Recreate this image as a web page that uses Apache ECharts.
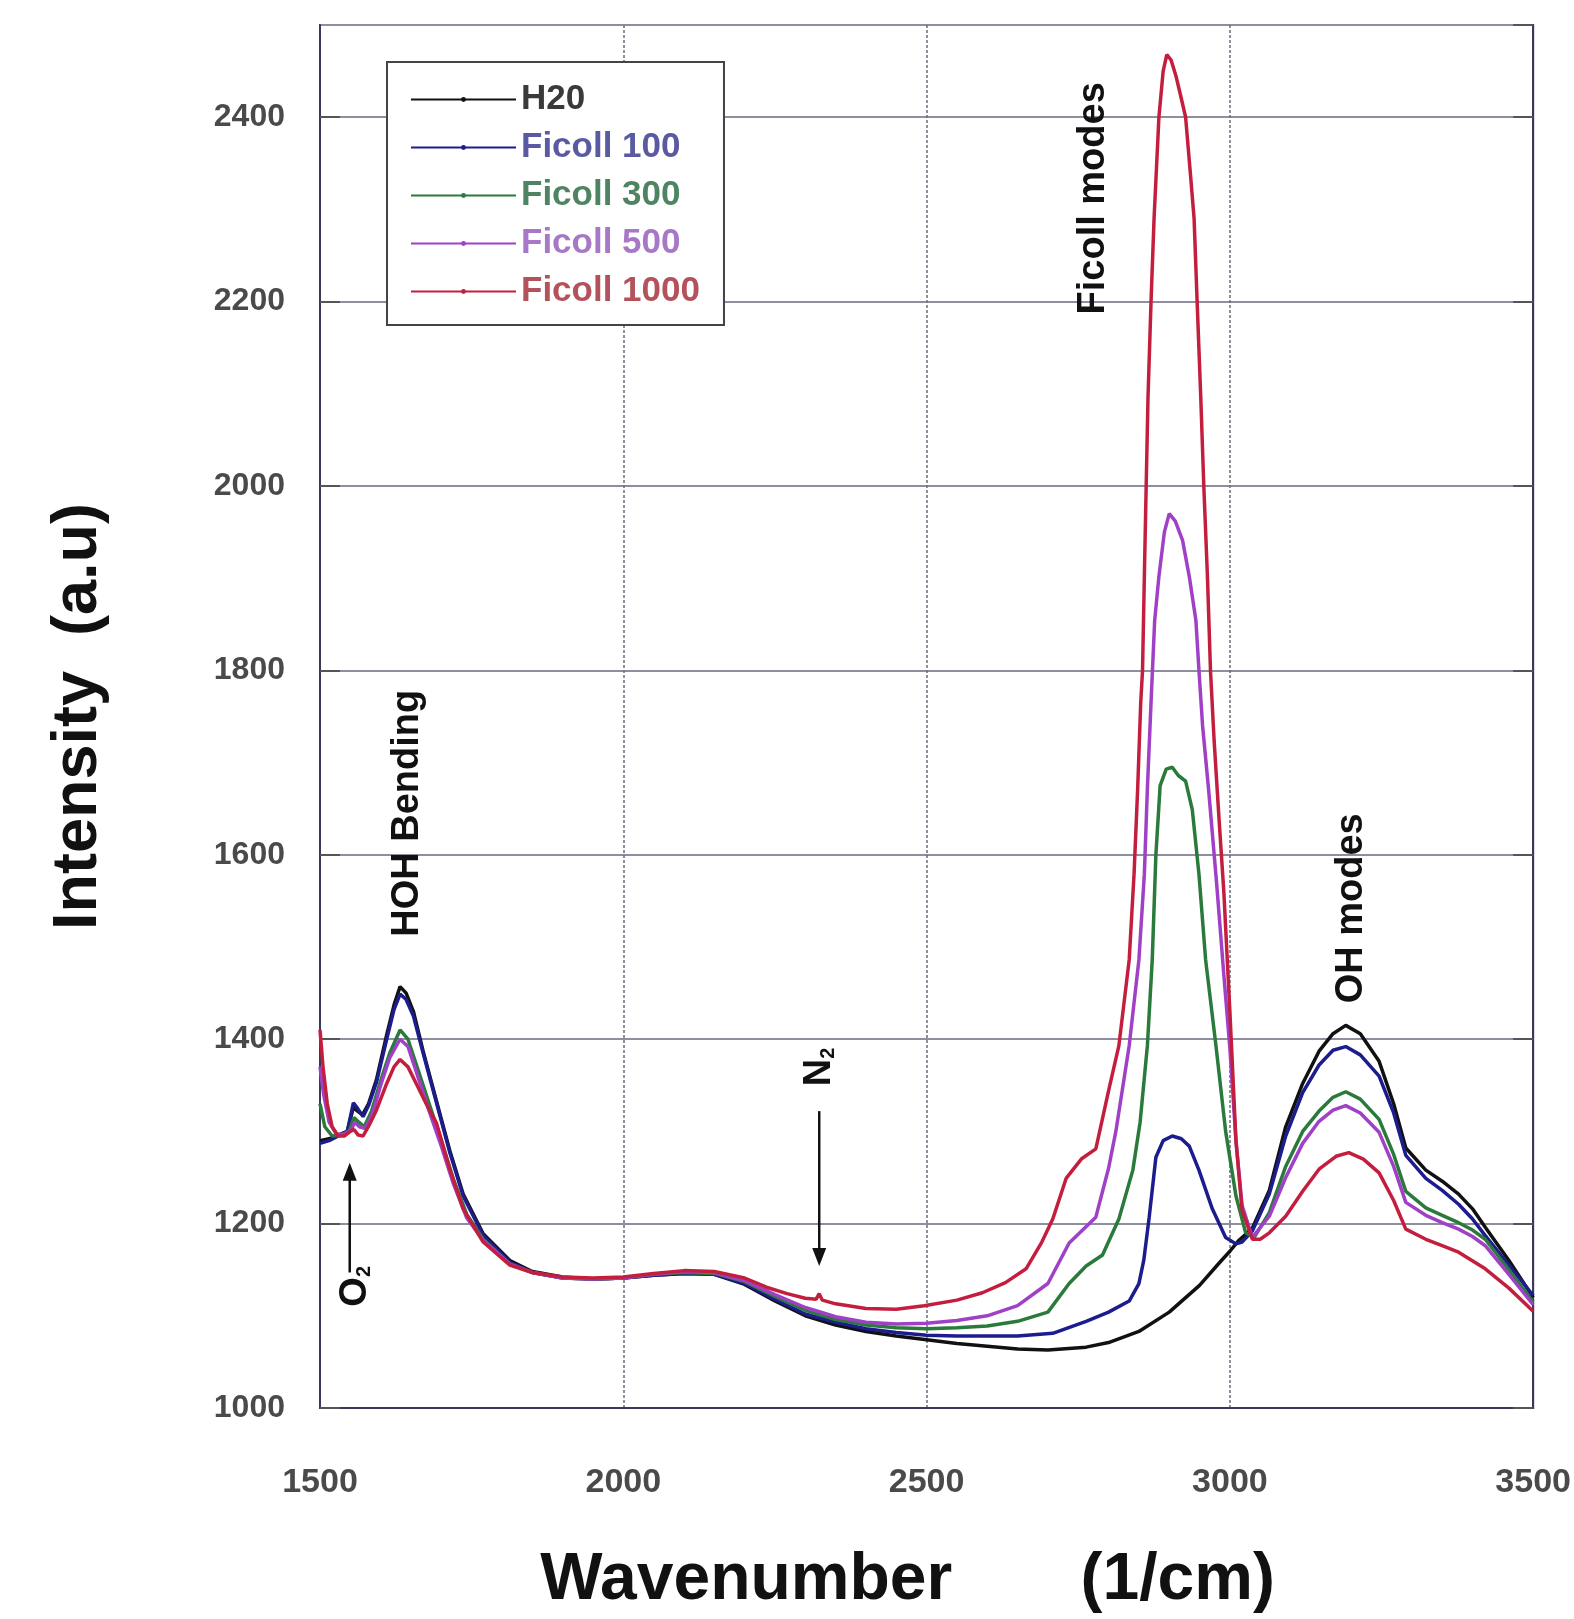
<!DOCTYPE html>
<html>
<head>
<meta charset="utf-8">
<script src="https://cdn.jsdelivr.net/npm/echarts@6/dist/echarts.min.js"></script>
<style>
  html, body { margin: 0; padding: 0; background: #fff; }
  #chart { width: 1574px; height: 1619px; }
</style>
</head>
<body>
<div id="chart"></div>
<script>
// series names and their colours
var seriesNames = ['H20', 'Ficoll 100', 'Ficoll 300', 'Ficoll 500', 'Ficoll 1000'];
var lineColors = ['#111111', '#1c1c8e', '#2a7a3c', '#a040c6', '#c41e3e'];
var legendTextColors = ['#3a3a3a', '#5a5aa2', '#4e8462', '#a878c8', '#b4525c'];

// axis ticks
var xTicks = [1500, 2000, 2500, 3000, 3500];
var yTicks = [1000, 1200, 1400, 1600, 1800, 2000, 2200, 2400];

// [wavenumber, intensity]
var h2o = [[1500,1290],[1515,1292],[1530,1296],[1545,1300],[1555,1326],[1562,1322],[1570,1318],[1580,1330],[1593,1356],[1610,1405],[1622,1437],[1632,1457],[1642,1450],[1654,1430],[1670,1387],[1692,1333],[1714,1279],[1736,1232],[1769,1189],[1813,1160],[1850,1148],[1900,1142],[1950,1140],[2000,1141],[2050,1144],[2100,1146],[2150,1145],[2200,1134],[2250,1116],[2300,1100],[2350,1090],[2400,1083],[2450,1078],[2500,1074],[2550,1070],[2600,1067],[2650,1064],[2700,1063],[2763,1066],[2800,1071],[2850,1083],[2900,1104],[2950,1133],[2982,1157],[3000,1170],[3015,1182],[3037,1195],[3065,1236],[3092,1305],[3120,1352],[3147,1387],[3170,1406],[3191,1415],[3215,1406],[3246,1376],[3270,1330],[3290,1282],[3323,1258],[3350,1246],[3377,1232],[3400,1216],[3421,1196],[3460,1160],[3500,1120]];

var ficoll100 = [[1500,1287],[1515,1290],[1530,1295],[1545,1300],[1555,1331],[1562,1325],[1571,1316],[1580,1328],[1593,1353],[1610,1400],[1622,1432],[1632,1449],[1642,1443],[1654,1425],[1670,1385],[1692,1331],[1714,1277],[1736,1230],[1769,1187],[1813,1158],[1850,1147],[1900,1141],[1950,1140],[2000,1141],[2050,1144],[2100,1146],[2150,1145],[2200,1135],[2250,1118],[2300,1102],[2350,1093],[2400,1086],[2450,1082],[2500,1079],[2550,1078],[2600,1078],[2650,1078],[2708,1081],[2763,1094],[2800,1104],[2834,1116],[2850,1135],[2858,1160],[2867,1207],[2878,1272],[2890,1290],[2905,1295],[2920,1292],[2933,1284],[2949,1258],[2971,1216],[2993,1185],[3010,1178],[3020,1180],[3037,1192],[3065,1232],[3092,1295],[3120,1342],[3147,1372],[3170,1388],[3191,1392],[3215,1383],[3246,1360],[3270,1320],[3290,1274],[3323,1249],[3350,1236],[3377,1221],[3400,1205],[3421,1187],[3460,1155],[3500,1122]];

var ficoll300 = [[1500,1330],[1508,1305],[1520,1295],[1535,1296],[1548,1300],[1556,1315],[1564,1310],[1573,1305],[1585,1322],[1600,1355],[1615,1385],[1632,1410],[1645,1400],[1660,1370],[1680,1330],[1700,1290],[1720,1248],[1742,1210],[1769,1183],[1813,1156],[1850,1147],[1900,1141],[1950,1140],[2000,1141],[2050,1145],[2100,1147],[2150,1146],[2200,1137],[2250,1121],[2300,1106],[2350,1096],[2400,1090],[2450,1087],[2500,1086],[2550,1087],[2600,1089],[2650,1094],[2700,1104],[2735,1135],[2763,1154],[2790,1166],[2817,1205],[2840,1258],[2852,1310],[2864,1393],[2872,1486],[2878,1600],[2885,1675],[2895,1693],[2905,1695],[2915,1686],[2927,1680],[2938,1649],[2949,1579],[2960,1486],[2977,1393],[2993,1300],[3010,1230],[3026,1190],[3040,1185],[3065,1212],[3092,1262],[3120,1300],[3147,1322],[3170,1337],[3191,1343],[3215,1335],[3246,1313],[3270,1275],[3290,1235],[3323,1217],[3350,1209],[3377,1201],[3400,1193],[3421,1183],[3460,1150],[3500,1115]];

var ficoll500 = [[1500,1370],[1506,1340],[1515,1310],[1527,1297],[1540,1297],[1552,1302],[1557,1310],[1565,1305],[1575,1303],[1587,1320],[1600,1350],[1615,1380],[1632,1400],[1645,1392],[1660,1362],[1680,1322],[1700,1284],[1720,1243],[1742,1206],[1769,1182],[1813,1156],[1850,1147],[1900,1141],[1950,1140],[2000,1141],[2050,1145],[2100,1148],[2150,1147],[2200,1138],[2250,1123],[2300,1109],[2350,1099],[2400,1093],[2450,1091],[2500,1092],[2550,1095],[2600,1100],[2650,1111],[2700,1135],[2735,1179],[2779,1207],[2800,1260],[2812,1300],[2834,1393],[2850,1486],[2859,1579],[2864,1672],[2870,1765],[2876,1854],[2883,1902],[2892,1950],[2900,1970],[2910,1962],[2922,1941],[2933,1902],[2944,1854],[2949,1800],[2955,1740],[2965,1670],[2978,1570],[2990,1470],[3000,1390],[3010,1290],[3020,1220],[3037,1185],[3065,1208],[3092,1250],[3120,1287],[3147,1311],[3170,1323],[3191,1328],[3215,1320],[3246,1299],[3270,1262],[3290,1223],[3323,1209],[3350,1201],[3377,1194],[3400,1186],[3421,1176],[3460,1145],[3500,1112]];

var ficoll1000 = [[1500,1410],[1505,1370],[1512,1330],[1520,1305],[1530,1295],[1540,1295],[1550,1300],[1556,1302],[1563,1296],[1571,1295],[1582,1308],[1593,1323],[1610,1352],[1622,1370],[1632,1378],[1645,1370],[1660,1350],[1675,1330],[1692,1309],[1714,1259],[1736,1216],[1769,1180],[1813,1155],[1850,1147],[1900,1142],[1950,1141],[2000,1142],[2050,1146],[2100,1149],[2150,1148],[2200,1141],[2236,1131],[2270,1124],[2300,1119],[2318,1118],[2323,1124],[2328,1117],[2350,1113],[2400,1108],[2450,1107],[2496,1111],[2550,1117],[2592,1125],[2630,1136],[2664,1151],[2690,1180],[2708,1205],[2730,1249],[2755,1270],[2779,1281],[2801,1347],[2817,1393],[2834,1486],[2842,1579],[2848,1672],[2853,1765],[2856,1800],[2859,1902],[2862,2000],[2865,2096],[2870,2200],[2875,2290],[2883,2400],[2890,2450],[2896,2468],[2903,2462],[2911,2445],[2920,2420],[2927,2400],[2935,2338],[2941,2290],[2946,2200],[2952,2096],[2957,2000],[2963,1902],[2968,1800],[2974,1724],[2982,1640],[2990,1560],[3000,1430],[3010,1290],[3020,1215],[3037,1183],[3050,1183],[3065,1190],[3092,1208],[3120,1235],[3147,1259],[3175,1273],[3196,1277],[3220,1270],[3246,1255],[3270,1225],[3290,1194],[3323,1183],[3350,1176],[3377,1169],[3421,1151],[3460,1130],[3500,1105]];

var seriesData = [h2o, ficoll100, ficoll300, ficoll500, ficoll1000];

// annotations, in data coordinates
var notes = [
    {text: 'HOH Bending', at: [1645, 1645]},
    {text: 'Ficoll modes', at: [2776, 2312]},
    {text: 'OH modes', at: [3201, 1542]},
    {text: '{n|N}{s|2}', at: [2323, 1370]},
    {text: '{n|O}{s|2}', at: [1558, 1132]}
];
// arrows: [from, tip]
var arrows = [
    [[2323, 1322], [2323, 1154]],
    [[1549, 1147], [1549, 1266]]
];

var myChart = echarts.init(document.getElementById('chart'));

var series = [];
for (var i = 0; i < seriesNames.length; i++) {
    series.push({
        name: seriesNames[i],
        type: 'line',
        data: seriesData[i],
        symbol: 'circle',
        symbolSize: 4,
        showSymbol: false,
        animation: false,
        color: lineColors[i],
        lineStyle: {width: 3.5, color: lineColors[i]}
    });
}

var legendData = seriesNames.map(function (n, i) {
    return {name: n, textStyle: {color: legendTextColors[i]}};
});

var labelFont = 'Liberation Sans, Arial, sans-serif';
var plainNum = function (v) { return String(v); };

var option = {
    backgroundColor: '#ffffff',
    animation: false,
    grid: {
        left: 320, right: 40, top: 25, bottom: 206,
        show: true, borderColor: '#3a3a58', borderWidth: 2
    },
    legend: {
        data: legendData,
        orient: 'vertical',
        left: 387, top: 62,
        padding: [20, 24, 16, 23],
        itemWidth: 105, itemHeight: 6, itemGap: 13, itemTextGap: 12,
        borderColor: '#444', borderWidth: 2,
        backgroundColor: '#fff',
        lineStyle: {width: 2},
        textStyle: {fontSize: 35, fontWeight: 'bold', fontFamily: labelFont}
    },
    xAxis: {
        type: 'value',
        min: xTicks[0], max: xTicks[xTicks.length - 1], interval: 500,
        name: 'Wavenumber       (1/cm)',
        nameLocation: 'middle', nameGap: 140,
        nameTextStyle: {fontSize: 66, fontWeight: 'bold', color: '#111', fontFamily: labelFont, padding: [0, 38, 0, 0]},
        axisLine: {lineStyle: {color: '#3a3a58', width: 2}},
        axisTick: {show: false},
        axisLabel: {fontSize: 34, fontWeight: 'bold', color: '#4a4a4a', fontFamily: labelFont, margin: 58, formatter: plainNum},
        splitLine: {show: true, lineStyle: {color: '#6c6c7c', width: 1.5, type: [3, 2]}}
    },
    yAxis: [{
        type: 'value',
        min: yTicks[0], max: 2500, interval: 200,
        name: 'Intensity  (a.u)',
        nameLocation: 'middle', nameGap: 210,
        nameTextStyle: {fontSize: 63, fontWeight: 'bold', color: '#111', fontFamily: labelFont},
        axisLine: {lineStyle: {color: '#3a3a58', width: 2}},
        axisTick: {show: true, inside: true, length: 20, lineStyle: {color: '#555', width: 2}},
        axisLabel: {fontSize: 32, fontWeight: 'bold', color: '#4a4a4a', fontFamily: labelFont, margin: 35, showMaxLabel: false, formatter: plainNum},
        splitLine: {show: true, lineStyle: {color: '#8e8e9e', width: 2}}
    }, {
        type: 'value',
        position: 'right',
        min: yTicks[0], max: 2500, interval: 200,
        axisLine: {show: true, lineStyle: {color: '#3a3a58', width: 2}},
        axisTick: {show: true, inside: true, length: 20, lineStyle: {color: '#555', width: 2}},
        axisLabel: {show: false},
        splitLine: {show: false}
    }],
    series: series
};

myChart.setOption(option);

// annotations placed through the chart's own coordinate system
function drawNotes() {
    var g = [];
    notes.forEach(function (n) {
        var p = myChart.convertToPixel({gridIndex: 0}, n.at);
        g.push({
            type: 'text',
            x: p[0], y: p[1],
            rotation: Math.PI / 2,
            z: 100,
            style: {
                text: n.text,
                fill: '#111',
                font: 'bold 38px ' + labelFont,
                align: 'center',
                verticalAlign: 'middle',
                rich: {
                    n: {fontSize: 38, fontWeight: 'bold', fontFamily: labelFont, fill: '#111'},
                    s: {fontSize: 20, fontWeight: 'bold', fontFamily: labelFont, fill: '#111', verticalAlign: 'bottom', padding: [14, 0, 0, 0]}
                }
            }
        });
    });
    arrows.forEach(function (a) {
        var p0 = myChart.convertToPixel({gridIndex: 0}, a[0]);
        var p1 = myChart.convertToPixel({gridIndex: 0}, a[1]);
        var dir = p1[1] > p0[1] ? 1 : -1;
        g.push({
            type: 'line', z: 100,
            shape: {x1: p0[0], y1: p0[1], x2: p1[0], y2: p1[1] - dir * 14},
            style: {stroke: '#111', lineWidth: 2.5}
        });
        g.push({
            type: 'polygon', z: 100,
            shape: {points: [[p1[0], p1[1]], [p1[0] - 7, p1[1] - dir * 18], [p1[0] + 7, p1[1] - dir * 18]]},
            style: {fill: '#111'}
        });
    });
    myChart.setOption({graphic: g});
}
drawNotes();
</script>
</body>
</html>
